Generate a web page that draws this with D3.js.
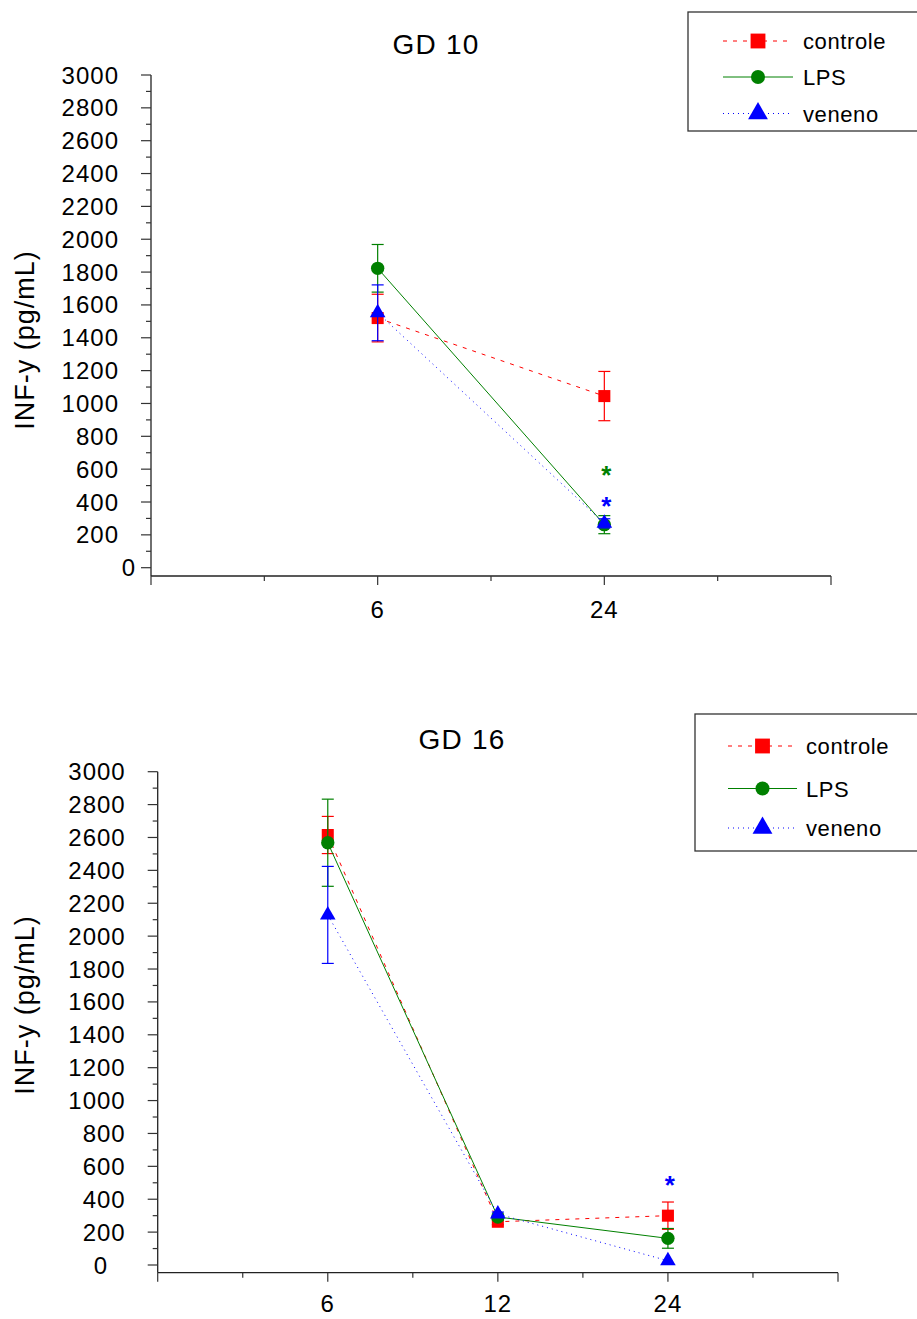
<!DOCTYPE html>
<html>
<head>
<meta charset="utf-8">
<script src="https://cdn.jsdelivr.net/npm/d3@7"></script>
<style>
  body { margin: 0; background: #fff; }
  svg text { font-family: "Liberation Sans", Arial, sans-serif; fill: #000; }
</style>
</head>
<body>
<svg id="chart" width="917" height="1319"></svg>
<script>
// ---------- data ----------
const seriesNames = ["controle", "LPS", "veneno"];
const yTicks = [0, 200, 400, 600, 800, 1000, 1200, 1400, 1600, 1800, 2000, 2200, 2400, 2600, 2800, 3000];

// GD 10
const gd10Times = ["6", "24"];
const gd10Controle = [1520, 1045];
const gd10ControleErr = [145, 150];
const gd10LPS = [1823, 262];
const gd10LPSErr = [145, 55];
const gd10Veneno = [1552, 270];
const gd10VenenoErr = [170, 28];

// GD 16
const gd16Times = ["6", "12", "24"];
const gd16Controle = [2615, 263, 300];
const gd16ControleErr = [113, 18, 83];
const gd16LPS = [2568, 292, 162];
const gd16LPSErr = [265, 18, 60];
const gd16Veneno = [2129, 310, 26];
const gd16VenenoErr = [295, 12, 0];

// significance marks: [timeIndex, series, value]
const gd10Stars = [[1, "LPS", 600], [1, "veneno", 410]];
const gd16Stars = [[2, "veneno", 520]];

// ---------- styles ----------
const styles = {
  controle: { color: "#ff0000", dash: "4,6", symbol: d3.symbolSquare, size: 145, legendSize: 220 },
  LPS:      { color: "#008000", dash: null,  symbol: d3.symbolCircle, size: 140, legendSize: 155 },
  veneno:   { color: "#0000ff", dash: "1,4", symbol: d3.symbolTriangle, size: 105, legendSize: 170 }
};

const svg = d3.select("#chart");

function drawChart(cfg) {
  const g = svg.append("g");
  const nSlots = cfg.times.length * 2 + 2;
  const x = d3.scaleLinear().domain([0, nSlots]).range([cfg.left, cfg.right]);
  const y = d3.scaleLinear().domain([0, 3000]).range([cfg.zeroY, cfg.topY]);
  const slot = i => 2 * (i + 1);

  // y axis line
  g.append("line").attr("x1", cfg.left).attr("x2", cfg.left)
    .attr("y1", cfg.topY).attr("y2", cfg.axisY)
    .attr("stroke", "#222").attr("stroke-width", 1.3);
  // x axis line
  g.append("line").attr("x1", cfg.left).attr("x2", cfg.right)
    .attr("y1", cfg.axisY).attr("y2", cfg.axisY)
    .attr("stroke", "#222").attr("stroke-width", 1.3);

  // y ticks (major + minor)
  const minor = d3.range(100, 3000, 200);
  g.selectAll(".ymaj").data(yTicks).enter().append("line")
    .attr("x1", cfg.left - 10).attr("x2", cfg.left)
    .attr("y1", d => y(d)).attr("y2", d => y(d))
    .attr("stroke", "#333").attr("stroke-width", 1.2);
  g.selectAll(".ymin").data(minor).enter().append("line")
    .attr("x1", cfg.left - 5).attr("x2", cfg.left)
    .attr("y1", d => y(d)).attr("y2", d => y(d))
    .attr("stroke", "#333").attr("stroke-width", 1.2);
  g.selectAll(".ylab").data(yTicks).enter().append("text")
    .attr("x", d => d === 0 ? cfg.zeroLabelX : cfg.left - 32)
    .attr("y", d => y(d) + 8.5)
    .attr("text-anchor", "end")
    .attr("font-size", 24).attr("letter-spacing", 1)
    .text(d => d);

  // x ticks
  g.selectAll(".xt").data(d3.range(0, nSlots + 1)).enter().append("line")
    .attr("x1", d => x(d)).attr("x2", d => x(d))
    .attr("y1", cfg.axisY).attr("y2", d => cfg.axisY + (d % 2 === 0 ? 9 : 5))
    .attr("stroke", "#333").attr("stroke-width", 1.2);
  g.selectAll(".xlab").data(cfg.times).enter().append("text")
    .attr("x", (d, i) => x(slot(i)))
    .attr("y", cfg.axisY + cfg.xLabelDy)
    .attr("text-anchor", "middle")
    .attr("font-size", 24).attr("letter-spacing", 1)
    .text(d => d);

  // title
  g.append("text").attr("x", cfg.titleX).attr("y", cfg.titleY)
    .attr("text-anchor", "middle").attr("font-size", 28).attr("letter-spacing", 1.2)
    .text(cfg.title);

  // y title
  g.append("text")
    .attr("transform", `translate(${cfg.yTitleX},${cfg.yTitleY}) rotate(-90)`)
    .attr("text-anchor", "middle").attr("font-size", 27).attr("letter-spacing", 1)
    .text("INF-y (pg/mL)");

  // series
  cfg.series.forEach(s => {
    const st = styles[s.name];
    const pts = s.values.map((v, i) => ({ x: x(slot(i)), y: y(v), v, e: s.err[i] }));
    const line = d3.line().x(d => d.x).y(d => d.y);
    g.append("path").attr("d", line(pts))
      .attr("fill", "none").attr("stroke", st.color).attr("stroke-width", 1)
      .attr("stroke-dasharray", st.dash);
    // error bars
    pts.filter(p => p.e > 0).forEach(p => {
      const top = y(p.v + p.e), bot = y(p.v - p.e);
      g.append("line").attr("x1", p.x).attr("x2", p.x).attr("y1", top).attr("y2", bot)
        .attr("stroke", st.color).attr("stroke-width", 1.2);
      [top, bot].forEach(yy => g.append("line")
        .attr("x1", p.x - 6).attr("x2", p.x + 6).attr("y1", yy).attr("y2", yy)
        .attr("stroke", st.color).attr("stroke-width", 1.2));
    });
    g.selectAll(null).data(pts).enter().append("path")
      .attr("transform", d => `translate(${d.x},${d.y})`)
      .attr("d", d3.symbol().type(st.symbol).size(st.size))
      .attr("fill", st.color);
  });

  // stars
  cfg.stars.forEach(([ti, name, v]) => {
    g.append("text").attr("x", x(slot(ti)) + 2).attr("y", y(v) + 15)
      .attr("text-anchor", "middle").attr("font-size", 26).attr("font-weight", "bold")
      .style("fill", styles[name].color)
      .text("*");
  });

  // legend
  const L = cfg.legend;
  g.append("rect").attr("x", L.x).attr("y", L.y).attr("width", L.w).attr("height", L.h)
    .attr("fill", "#fff").attr("stroke", "#333").attr("stroke-width", 1.3);
  seriesNames.forEach((name, i) => {
    const st = styles[name];
    const yy = L.rows[i];
    g.append("line").attr("x1", L.lineX1).attr("x2", L.lineX2).attr("y1", yy).attr("y2", yy)
      .attr("stroke", st.color).attr("stroke-width", 1).attr("stroke-dasharray", st.dash);
    g.append("path").attr("transform", `translate(${(L.lineX1 + L.lineX2) / 2},${yy})`)
      .attr("d", d3.symbol().type(st.symbol).size(st.legendSize)).attr("fill", st.color);
    g.append("text").attr("x", L.textX).attr("y", yy + 8)
      .attr("font-size", 22).attr("letter-spacing", 0.6).text(name);
  });
}

drawChart({
  title: "GD 10", titleX: 436, titleY: 54,
  times: gd10Times, xLabelDy: 42,
  left: 151, right: 831, topY: 75, zeroY: 567.7, axisY: 576,
  zeroLabelX: 136, yTitleX: 34, yTitleY: 340,
  series: [
    { name: "controle", values: gd10Controle, err: gd10ControleErr },
    { name: "LPS", values: gd10LPS, err: gd10LPSErr },
    { name: "veneno", values: gd10Veneno, err: gd10VenenoErr }
  ],
  stars: gd10Stars,
  legend: { x: 688, y: 12, w: 240, h: 119, rows: [41, 77, 113.5], lineX1: 723, lineX2: 793, textX: 803 }
});

drawChart({
  title: "GD 16", titleX: 462, titleY: 749,
  times: gd16Times, xLabelDy: 39,
  left: 157.7, right: 838, topY: 771.7, zeroY: 1265, axisY: 1272.7,
  zeroLabelX: 108, yTitleX: 34, yTitleY: 1005,
  series: [
    { name: "controle", values: gd16Controle, err: gd16ControleErr },
    { name: "LPS", values: gd16LPS, err: gd16LPSErr },
    { name: "veneno", values: gd16Veneno, err: gd16VenenoErr }
  ],
  stars: gd16Stars,
  legend: { x: 695, y: 714, w: 240, h: 137, rows: [746, 788.5, 828], lineX1: 728, lineX2: 797, textX: 806 }
});
</script>
</body>
</html>
